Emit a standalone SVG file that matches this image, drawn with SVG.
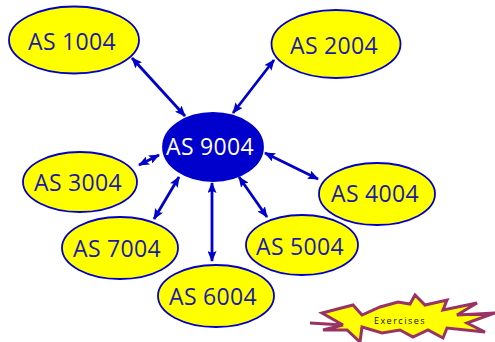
<svg xmlns="http://www.w3.org/2000/svg" width="495" height="342" viewBox="0 0 495 342">
<style>
.n{fill:#ffff00;stroke:#0000cc;stroke-width:1.8}
.c{fill:#0000cc;stroke:#0000cc;stroke-width:1.8}
.t{font-family:"Open Sans","Liberation Sans",sans-serif;font-size:23px;fill:#1a1aa8;text-anchor:middle;letter-spacing:0.3px}
.tw{fill:#ffffff}
.e{stroke:#0000cc;stroke-width:2.8;fill:none;marker-start:url(#ah);marker-end:url(#ah)}
</style>
<defs>
<marker id="ah" viewBox="0 0 11 9" refX="10" refY="4.5" markerWidth="11" markerHeight="9" markerUnits="userSpaceOnUse" orient="auto-start-reverse">
<path d="M0,0 L11,4.5 L0,9 L2,4.5 Z" fill="#0000cc"/>
</marker>
</defs>
<rect width="495" height="342" fill="#ffffff"/>
<g id="connectors">
<line class="e" x1="132" y1="58" x2="185" y2="116"/>
<line class="e" x1="274" y1="60" x2="233" y2="113"/>
<line class="e" x1="139" y1="165" x2="159" y2="155"/>
<line class="e" x1="154" y1="219" x2="179" y2="177"/>
<line class="e" x1="212" y1="183" x2="212" y2="261"/>
<line class="e" x1="239" y1="177" x2="267" y2="217"/>
<line class="e" x1="265" y1="153" x2="318" y2="179"/>
</g>
<g id="as1004"><ellipse class="n" cx="74" cy="40" rx="65" ry="33.5"/><text class="t" x="72" y="50">AS 1004</text></g>
<g id="as2004"><ellipse class="n" cx="336" cy="44" rx="64.5" ry="34"/><text class="t" x="334" y="54">AS 2004</text></g>
<g id="as9004"><ellipse class="c" cx="213" cy="147" rx="50" ry="34"/><text class="t tw" x="210" y="155">AS 9004</text></g>
<g id="as3004"><ellipse class="n" cx="80" cy="182" rx="57" ry="30"/><text class="t" x="78" y="191">AS 3004</text></g>
<g id="as4004"><ellipse class="n" cx="377" cy="194" rx="58" ry="31"/><text class="t" x="375" y="202">AS 4004</text></g>
<g id="as7004"><ellipse class="n" cx="120" cy="248" rx="58" ry="31"/><text class="t" x="117" y="257">AS 7004</text></g>
<g id="as5004"><ellipse class="n" cx="302" cy="245" rx="56" ry="30"/><text class="t" x="300" y="255">AS 5004</text></g>
<g id="as6004"><ellipse class="n" cx="216" cy="296" rx="58" ry="31"/><text class="t" x="213" y="305">AS 6004</text></g>
<g id="exercises">
<polygon points="310,323 343,325 322,313 353,305 362,315 380,307 398,302 410,304 415,295 425,305 447,300 443,310 477,303 457,315 495,313 467,323 485,332 447,328 443,338 428,330 413,337 400,330 382,333 362,327 360,342 347,330 323,330 343,325" fill="#ffff00" stroke="#993366" stroke-width="3" stroke-linejoin="miter"/>
<text x="400" y="324" font-family="Open Sans,Liberation Sans,sans-serif" font-size="9" letter-spacing="1.5" fill="#111111" text-anchor="middle">Exercises</text>
</g>
</svg>
